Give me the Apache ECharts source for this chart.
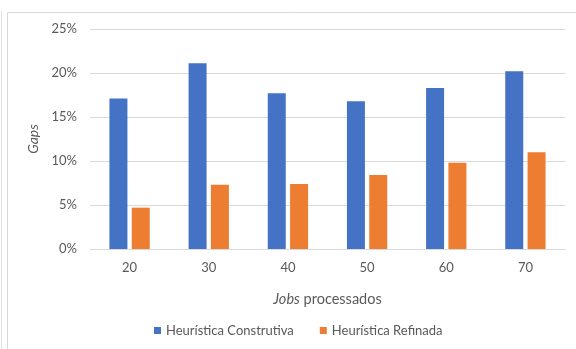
<!DOCTYPE html>
<html>
<head>
<meta charset="utf-8">
<script src="https://cdn.jsdelivr.net/npm/echarts@6/dist/echarts.min.js"></script>
<style>
  html, body { margin: 0; padding: 0; background: #fff; }
  #chart { width: 576px; height: 349px; }
</style>
</head>
<body>
<div id="chart"></div>
<script>
// Jobs processed per instance group
const categories = ['20', '30', '40', '50', '60', '70'];
// Gap (%) for each heuristic
const construtiva = [17.1, 21.1, 17.7, 16.8, 18.3, 20.2];
const refinada = [4.7, 7.3, 7.4, 8.4, 9.8, 11.0];
// Y axis scale
const yTicks = { min: 0, max: 25, interval: 5 };

const FONT = 'Lato, "Open Sans", sans-serif';
const TXT = '#595959';
const GRID = '#d9d9d9';

const chart = echarts.init(document.getElementById('chart'), null, { renderer: 'canvas' });
chart.setOption({
  animation: false,
  backgroundColor: '#ffffff',
  textStyle: { fontFamily: FONT },
  grid: { left: 90, right: 11, top: 29, bottom: 100 },
  legend: {
    bottom: 7,
    left: 149,
    icon: 'rect',
    itemWidth: 7,
    itemHeight: 7,
    itemGap: 26,
    textStyle: { color: TXT, fontSize: 13, fontFamily: FONT },
    data: ['Heurística Construtiva', 'Heurística Refinada']
  },
  xAxis: {
    type: 'category',
    data: categories,
    axisLine: { lineStyle: { color: GRID, width: 1 } },
    axisTick: { show: false },
    axisLabel: { color: TXT, fontSize: 13, margin: 12, fontFamily: FONT },
    name: '{i|Jobs} processados',
    nameLocation: 'middle',
    nameGap: 43,
    nameTextStyle: {
      color: TXT, fontSize: 14.5, fontFamily: FONT,
      rich: { i: { fontStyle: 'italic', color: TXT, fontSize: 14.5, fontFamily: FONT } }
    }
  },
  yAxis: {
    type: 'value',
    min: yTicks.min,
    max: yTicks.max,
    interval: yTicks.interval,
    axisLine: { show: false },
    axisTick: { show: false },
    splitLine: { lineStyle: { color: GRID, width: 1 } },
    axisLabel: { color: TXT, fontSize: 13, margin: 13, fontFamily: FONT, formatter: v => v + '%' },
    name: 'Gaps',
    nameLocation: 'middle',
    nameGap: 43,
    nameRotate: 90,
    nameTextStyle: { color: TXT, fontSize: 14, fontStyle: 'italic', fontFamily: FONT }
  },
  series: [
    {
      name: 'Heurística Construtiva',
      type: 'bar',
      data: construtiva,
      barWidth: 18,
      barGap: '24%',
      itemStyle: { color: '#4472C4' }
    },
    {
      name: 'Heurística Refinada',
      type: 'bar',
      data: refinada,
      barWidth: 18,
      itemStyle: { color: '#ED7D31' }
    }
  ],
  graphic: [
    // chart area frame (top and left edges)
    { type: 'line', shape: { x1: 7.5, y1: 12.5, x2: 576, y2: 12.5 }, style: { stroke: '#d9d9d9', lineWidth: 1 } },
    { type: 'line', shape: { x1: 7.5, y1: 12.5, x2: 7.5, y2: 349 }, style: { stroke: '#d9d9d9', lineWidth: 1 } },
    { type: 'line', shape: { x1: 1.5, y1: 11, x2: 1.5, y2: 349 }, style: { stroke: '#e3e3e3', lineWidth: 1 } }
  ]
});
</script>
</body>
</html>
